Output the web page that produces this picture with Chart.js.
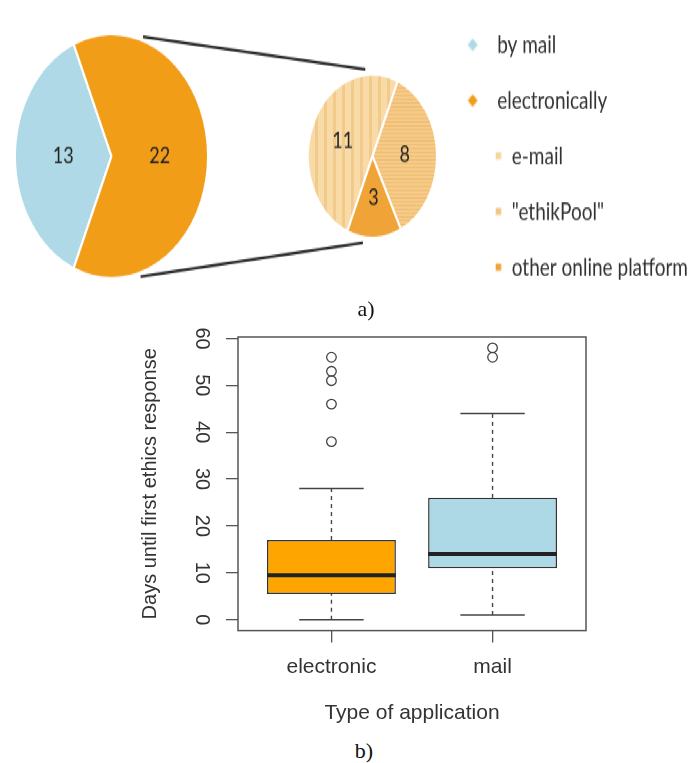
<!DOCTYPE html>
<html>
<head>
<meta charset="utf-8">
<title>Ethics applications</title>
<script src="https://cdn.jsdelivr.net/npm/chart.js@4.4.1/dist/chart.umd.min.js"></script>
<style>
  html, body { margin: 0; padding: 0; background: #fff; }
  body { width: 690px; height: 763px; position: relative; overflow: hidden; }
  /* the pie figure is drawn flat and stretched vertically into ellipses */
  #pies { position: absolute; left: 0; top: 0; width: 698px; height: 260px;
          transform: scaleY(1.265); transform-origin: 0 0; }
  #pies canvas { position: absolute; left: 0; top: 0; }
  #boxWrap { position: absolute; left: 0; top: 300px; width: 690px; height: 430px; }
  .cap { position: absolute; width: 60px; text-align: center; color: #111;
         font: 22px "Liberation Serif", "Times New Roman", serif; line-height: 26px; }
</style>
</head>
<body>
<div id="pies">
  <canvas id="channelPie" width="698" height="260"></canvas>
  <canvas id="typePie" width="230" height="237"></canvas>
</div>
<div class="cap" style="left:336px; top:296px;">a)</div>
<div id="boxWrap"><canvas id="boxPlot" width="690" height="430"></canvas></div>
<div class="cap" style="left:334px; top:738px;">b)</div>

<script>
// ---- a) how applications were submitted ----
const applicationTypes = ['by mail', 'electronically'];
const applicationCounts = [13, 22];
const channels = ['e-mail', '"ethikPool"', 'other online platform'];
const channelCounts = [11, 8, 3];

// ---- b) days until first ethics response ----
const groups = ['electronic', 'mail'];
const whiskerLow = [0, 1];
const q1 = [5.5, 11];
const median = [9.5, 14];
const q3 = [17, 26];
const whiskerHigh = [28, 44];
const outliers = [[38, 46, 51, 53, 56], [56, 58]];
const yTicks = [0, 10, 20, 30, 40, 50, 60];

const MAIL_BLUE = '#AFD9E6';
const ELEC_ORANGE = '#F29D17';
const OTHER_ORANGE = '#F0A336';
const BOX_COLORS = ['#FFA500', '#ADD8E6'];
const TEXT = '#333';
const CHANNEL_CENTER_X = 372.5;

function stripePattern(w, h, base, stripe, vertical, size) {
  const c = document.createElement('canvas');
  c.width = w; c.height = h;
  const g = c.getContext('2d');
  g.fillStyle = base; g.fillRect(0, 0, w, h);
  g.fillStyle = stripe;
  if (vertical) g.fillRect(0, 0, size, h); else g.fillRect(0, 0, w, size);
  return g.createPattern(c, 'repeat');
}
const emailFill = stripePattern(9, 1, '#F8DBA6', '#F2CB8C', true, 3);
const poolFill = stripePattern(1, 3, '#F6CB88', '#EFBC72', false, 1);
const channelColors = [emailFill, poolFill, OTHER_ORANGE];

// legend markers: diamonds for the main groups, small indented squares for channels
function marker(shape, color) {
  const c = document.createElement('canvas');
  const g = c.getContext('2d');
  if (shape === 'diamond') {
    c.width = 14; c.height = 14;
    g.fillStyle = color;
    g.beginPath();
    g.moveTo(7, 2); g.lineTo(12, 7); g.lineTo(7, 12); g.lineTo(2, 7);
    g.closePath(); g.fill();
  } else {
    c.width = 62; c.height = 8;
    g.fillStyle = color;
    g.fillRect(54, 1, 5.5, 5.5);
  }
  return c;
}
const legendItems = [
  { text: applicationTypes[0], pointStyle: marker('diamond', MAIL_BLUE) },
  { text: applicationTypes[1], pointStyle: marker('diamond', ELEC_ORANGE) },
  { text: '   ' + channels[0], pointStyle: marker('square', '#F3D59E') },
  { text: '   ' + channels[1], pointStyle: marker('square', '#F4C485') },
  { text: '   ' + channels[2], pointStyle: marker('square', OTHER_ORANGE) }
].map((it, i) => Object.assign({ fillStyle: '#000', strokeStyle: 'rgba(0,0,0,0)', lineWidth: 0,
                                  hidden: false, index: i, fontColor: TEXT }, it));

// value labels placed at each slice's centroid
const sliceLabels = {
  id: 'sliceLabels',
  afterDatasetsDraw(chart) {
    const ctx = chart.ctx;
    const values = chart.data.datasets[0].data;
    chart.getDatasetMeta(0).data.forEach((arc, i) => {
      const p = arc.tooltipPosition();
      ctx.save();
      ctx.font = '18px Lato';
      ctx.fillStyle = '#222';
      ctx.textAlign = 'center';
      ctx.textBaseline = 'middle';
      ctx.fillText(String(values[i]), p.x, p.y);
      ctx.restore();
    });
  }
};

let typePie = null;

// lines joining the "electronically" slice to the breakdown pie
const connectorLines = {
  id: 'connectorLines',
  beforeDatasetsDraw(chart) {
    if (!typePie) return;
    const a = typePie.getDatasetMeta(0).data[0];
    const b = chart.getDatasetMeta(0).data[0];
    const ctx = chart.ctx;
    ctx.save();
    ctx.strokeStyle = '#2b2b2b';
    ctx.lineWidth = 2.2;
    [[-71.5, -96], [73, 98]].forEach(([angA, angB]) => {
      const ra = angA * Math.PI / 180, rb = angB * Math.PI / 180;
      const rA = a.outerRadius + 3, rB = b.outerRadius * 1.07;
      ctx.beginPath();
      ctx.moveTo(a.x + rA * Math.cos(ra), a.y + rA * Math.sin(ra));
      ctx.lineTo(b.x + rB * Math.cos(rb), b.y + rB * Math.sin(rb));
      ctx.stroke();
    });
    ctx.restore();
  }
};

const typeTotal = applicationCounts.reduce((s, v) => s + v, 0);
typePie = new Chart(document.getElementById('typePie'), {
  type: 'pie',
  data: {
    labels: applicationTypes,
    datasets: [{ data: applicationCounts, backgroundColor: [MAIL_BLUE, ELEC_ORANGE],
                 borderColor: '#fff', borderWidth: 2 }]
  },
  options: {
    responsive: false, animation: false, events: [],
    radius: 96.5,
    rotation: 270 - applicationCounts[0] / typeTotal * 180,
    layout: { padding: { left: 11.5, right: 18.5, top: 23.5, bottom: 13.5 } },
    plugins: { legend: { display: false }, tooltip: { enabled: false } }
  },
  plugins: [sliceLabels]
});

const channelPie = new Chart(document.getElementById('channelPie'), {
  type: 'pie',
  data: {
    labels: channels,
    datasets: [{ data: channelCounts, backgroundColor: channelColors,
                 borderColor: '#fff', borderWidth: 2 }]
  },
  options: {
    responsive: false, animation: false, events: [],
    radius: 64.5,
    rotation: 203,
    layout: { padding: { left: 0, right: 0, top: 0, bottom: 13 } },
    plugins: {
      tooltip: { enabled: false },
      legend: {
        position: 'right', align: 'center', maxWidth: 320,
        labels: {
          usePointStyle: true, pointStyleWidth: 30, padding: 25,
          color: TEXT, font: { family: 'Lato', size: 19 },
          generateLabels: () => legendItems
        }
      }
    }
  },
  plugins: [connectorLines, sliceLabels]
});
// centre the breakdown pie in the space left of the legend
channelPie.options.layout.padding.left = Math.max(0, 2 * CHANNEL_CENTER_X - channelPie.chartArea.right);
channelPie.update();

// ---- box plot built from floating bars, line segments and a scatter of outliers ----
const boxDatasets = [];
const segStyle = { type: 'line', pointRadius: 0, borderColor: '#444', borderWidth: 1.4, fill: false };
groups.forEach((g, i) => {
  const x = i + 1;
  boxDatasets.push(Object.assign({}, segStyle, { label: g + ' median', order: 0,
    data: [{ x: x - 0.4, y: median[i] }, { x: x + 0.4, y: median[i] }], borderColor: '#222', borderWidth: 4 }));
  boxDatasets.push(Object.assign({}, segStyle, { label: g + ' upper whisker', order: 3, borderDash: [4, 4],
    data: [{ x: x, y: q3[i] }, { x: x, y: whiskerHigh[i] }] }));
  boxDatasets.push(Object.assign({}, segStyle, { label: g + ' lower whisker', order: 3, borderDash: [4, 4],
    data: [{ x: x, y: whiskerLow[i] }, { x: x, y: q1[i] }] }));
  boxDatasets.push(Object.assign({}, segStyle, { label: g + ' upper cap', order: 3,
    data: [{ x: x - 0.2, y: whiskerHigh[i] }, { x: x + 0.2, y: whiskerHigh[i] }] }));
  boxDatasets.push(Object.assign({}, segStyle, { label: g + ' lower cap', order: 3,
    data: [{ x: x - 0.2, y: whiskerLow[i] }, { x: x + 0.2, y: whiskerLow[i] }] }));
});
boxDatasets.push({
  type: 'bar', label: 'interquartile range', order: 2,
  data: groups.map((g, i) => ({ x: i + 1, y: [q1[i], q3[i]] })),
  backgroundColor: BOX_COLORS, borderColor: '#333', borderWidth: 1.5, borderSkipped: false,
  barPercentage: 0.8, categoryPercentage: 1
});
boxDatasets.push({
  type: 'scatter', label: 'outliers', order: 1, showLine: false,
  data: outliers.flatMap((vals, i) => vals.map(v => ({ x: i + 1, y: v }))),
  pointStyle: 'circle', pointRadius: 4.8, borderColor: '#444', borderWidth: 1.3,
  backgroundColor: 'rgba(0,0,0,0)'
});

const plotFrame = {
  id: 'plotFrame',
  afterDatasetsDraw(chart) {
    const { ctx, chartArea: a } = chart;
    ctx.save();
    ctx.strokeStyle = '#555';
    ctx.lineWidth = 1.5;
    ctx.strokeRect(a.left, a.top, a.width, a.height);
    ctx.restore();
  }
};

const axisFont = { family: '"Liberation Sans", Arial, sans-serif', size: 21 };
new Chart(document.getElementById('boxPlot'), {
  type: 'bar',
  data: { datasets: boxDatasets },
  options: {
    responsive: false, animation: false, events: [],
    layout: { padding: { left: 138, right: 104, top: 37, bottom: 4 } },
    plugins: { legend: { display: false }, tooltip: { enabled: false } },
    scales: {
      x: {
        type: 'linear', min: 0.42, max: 2.58, offset: false,
        afterBuildTicks: s => { s.ticks = groups.map((g, i) => ({ value: i + 1 })); },
        ticks: { callback: (v, i) => groups[i], padding: 12, color: TEXT, font: axisFont, autoSkip: false },
        grid: { drawOnChartArea: false, offset: false, tickLength: 12, color: '#555', lineWidth: 1.3 },
        border: { display: false },
        title: { display: true, text: 'Type of application', color: TEXT, font: axisFont,
                 padding: { top: 9, bottom: 0 } }
      },
      y: {
        type: 'linear', min: -2.32, max: 60.32,
        afterBuildTicks: s => { s.ticks = yTicks.map(v => ({ value: v })); },
        ticks: { minRotation: -90, maxRotation: -90, crossAlign: 'center', padding: 13,
                 color: TEXT, font: { family: axisFont.family, size: 20 } },
        grid: { drawOnChartArea: false, tickLength: 12, color: '#555', lineWidth: 1.3 },
        border: { display: false },
        title: { display: true, text: 'Days until first ethics response', color: TEXT,
                 font: { family: axisFont.family, size: 20 }, padding: { top: 0, bottom: 62 } }
      }
    }
  },
  plugins: [plotFrame]
});
</script>
</body>
</html>
